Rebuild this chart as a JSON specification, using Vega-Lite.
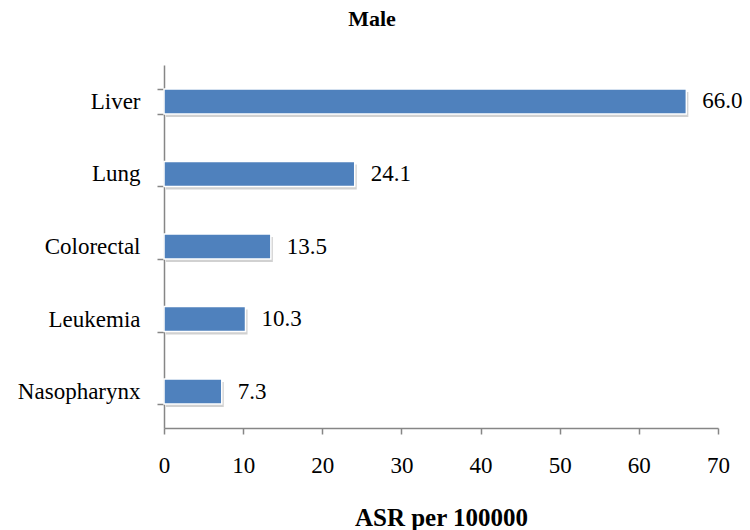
{
  "$schema": "https://vega.github.io/schema/vega-lite/v6.json",
  "width": 554,
  "height": 363,
  "autosize": {"type": "none"},
  "padding": {"left": 164, "top": 65, "right": 32, "bottom": 102},
  "background": "white",
  "title": {
    "text": "Male",
    "font": "Liberation Serif",
    "fontSize": 22,
    "fontWeight": "bold",
    "color": "black",
    "anchor": "middle",
    "frame": "group",
    "dx": -69,
    "offset": 23
  },
  "data": {
    "values": [
      {"site": "Liver", "asr": 66.0},
      {"site": "Lung", "asr": 24.1},
      {"site": "Colorectal", "asr": 13.5},
      {"site": "Leukemia", "asr": 10.3},
      {"site": "Nasopharynx", "asr": 7.3}
    ]
  },
  "config": {
    "view": {"stroke": null},
    "axis": {
      "labelFont": "Liberation Serif",
      "labelFontSize": 23,
      "labelColor": "black",
      "titleFont": "Liberation Serif",
      "titleColor": "black",
      "domainColor": "#868686",
      "domainWidth": 1.5,
      "tickColor": "#868686",
      "tickWidth": 1.5,
      "grid": false
    }
  },
  "encoding": {
    "y": {
      "field": "site",
      "type": "nominal",
      "sort": null,
      "scale": {"paddingInner": 0.655, "paddingOuter": 0.33},
      "axis": {
        "title": null,
        "tickBand": "extent",
        "tickSize": 7,
        "labelPadding": 17
      }
    },
    "x": {
      "field": "asr",
      "type": "quantitative",
      "scale": {"domain": [0, 70], "nice": false},
      "axis": {
        "values": [0, 10, 20, 30, 40, 50, 60, 70],
        "title": "ASR per 100000",
        "titleFontSize": 25,
        "titleFontWeight": "bold",
        "titlePadding": 28,
        "tickSize": 6,
        "labelPadding": 20,
        "labelFlush": false
      }
    }
  },
  "layer": [
    {
      "mark": {"type": "bar", "color": "#9a9a9a", "opacity": 0.45, "xOffset": 2, "yOffset": 3}
    },
    {
      "mark": {"type": "bar", "color": "#4F81BD", "stroke": "white", "strokeWidth": 1.5}
    },
    {
      "mark": {"type": "text", "align": "left", "dx": 16, "font": "Liberation Serif", "fontSize": 23, "color": "black"},
      "encoding": {"text": {"field": "asr", "type": "quantitative", "format": ".1f"}}
    }
  ]
}
